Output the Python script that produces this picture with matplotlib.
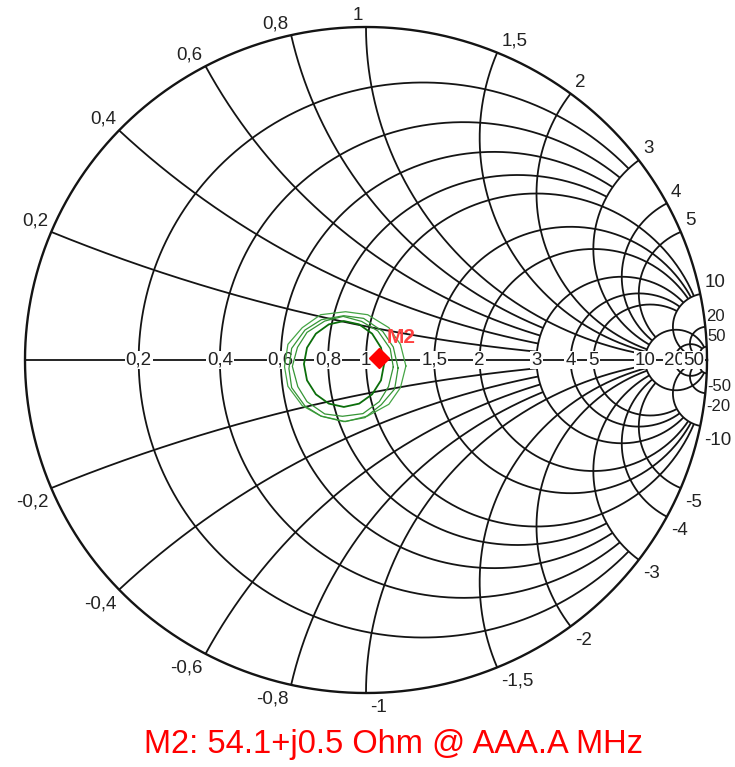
import numpy as np
import matplotlib.pyplot as plt

plt.rcParams['font.family'] = ['Liberation Sans', 'DejaVu Sans']

# normalised grid values (Z0 = 50 ohm)
resistances = [0.2, 0.4, 0.6, 0.8, 1, 1.5, 2, 3, 4, 5, 10, 20, 50]
reactances = [0.2, 0.4, 0.6, 0.8, 1, 1.5, 2, 3, 4, 5, 10, 20, 50]
# each grid line stops where it meets this value of the other family
r_stop = [3, 3, 3, 3, 10, 10, 10, 10, 10, 10, 50, 50, 50]
x_stop = [3, 3, 3, 3, 10, 10, 10, 10, 10, 10, 50, 50, 50]
grid_labels = ['0,2', '0,4', '0,6', '0,8', '1', '1,5', '2', '3', '4', '5', '10', '20', '50']

# marker
m2_ohm = 54.1 + 0.5j
m2_text = 'M2: 54.1+j0.5 Ohm @ AAA.A MHz'
z0 = 50.0

# measured sweeps, reflection coefficient (re, im)
sweep1_re = [0.053, 0.044, 0.018, -0.020, -0.065, -0.109, -0.147, -0.173,
             -0.182, -0.173, -0.147, -0.109, -0.065, -0.020, 0.018, 0.044, 0.053]
sweep1_im = [-0.012, 0.037, 0.079, 0.107, 0.117, 0.107, 0.079, 0.037,
             -0.012, -0.061, -0.103, -0.131, -0.141, -0.131, -0.103, -0.061, -0.012]
sweep2_re = [0.080, 0.071, 0.035, -0.013, -0.067, -0.121, -0.173, -0.201,
             -0.216, -0.200, -0.173, -0.121, -0.069, -0.009, 0.039, 0.066, 0.080]
sweep2_im = [-0.021, 0.034, 0.087, 0.116, 0.131, 0.117, 0.083, 0.038,
             -0.019, -0.080, -0.125, -0.162, -0.169, -0.161, -0.125, -0.080, -0.021]
sweep3_re = [0.094, 0.080, 0.049, -0.007, -0.065, -0.131, -0.179, -0.218,
             -0.226, -0.218, -0.179, -0.131, -0.065, -0.003, 0.045, 0.084, 0.094]
sweep3_im = [-0.024, 0.039, 0.086, 0.125, 0.133, 0.121, 0.090, 0.035,
             -0.026, -0.083, -0.138, -0.169, -0.185, -0.173, -0.134, -0.087, -0.024]
sweep4_re = [0.117, 0.101, 0.067, 0.005, -0.060, -0.133, -0.187, -0.229,
             -0.239, -0.229, -0.187, -0.133, -0.060, 0.005, 0.067, 0.101, 0.117]
sweep4_im = [-0.018, 0.047, 0.097, 0.136, 0.145, 0.136, 0.097, 0.047,
             -0.020, -0.079, -0.137, -0.168, -0.185, -0.168, -0.133, -0.083, -0.018]


def gamma(z):
    return (z - 1) / (z + 1)


fig = plt.figure(figsize=(7.35, 7.67), dpi=100)
ax = fig.add_axes([0, 0, 1, 1])
ax.set_xlim(-1.0733, 1.0821)
ax.set_ylim(-1.2222, 1.0811)
ax.axis('off')

ink = '#141414'
line_kw = dict(color=ink, lw=1.3, solid_capstyle='butt', zorder=1)

# outer circle and real axis
t = np.linspace(0, 2 * np.pi, 721)
ax.plot(np.cos(t), np.sin(t), color=ink, lw=1.7, zorder=1)
ax.plot([-1, 1], [0, 0], **line_kw)

# constant resistance circles
for r, xmax in zip(resistances, r_stop):
    xs = np.tan(np.linspace(-np.arctan(xmax), np.arctan(xmax), 800))
    g = gamma(r + 1j * xs)
    ax.plot(g.real, g.imag, **line_kw)

# constant reactance arcs
for x, rmax in zip(reactances, x_stop):
    rs = np.tan(np.linspace(0, np.arctan(rmax), 800))
    for sgn in (1, -1):
        g = gamma(rs + 1j * sgn * x)
        ax.plot(g.real, g.imag, **line_kw)

# labels on the real axis
for r, lab in zip(resistances, grid_labels):
    ax.text(gamma(r), 0, lab, ha='center', va='center', fontsize=13.5,
            color='#222222', zorder=3,
            bbox=dict(boxstyle='square,pad=0.05', fc='white', ec='none'))

# labels round the rim
for x, lab in zip(reactances, grid_labels):
    for sgn in (1, -1):
        g = gamma(1j * sgn * x)
        left = x < 1 or (x == 1 and sgn > 0)
        text = lab if sgn > 0 else '-' + lab
        edge = x >= 20  # these sit right at the figure border
        ax.annotate(text, (g.real, g.imag),
                    xytext=(-2 if left else (0.5 if edge else 3),
                            2 if sgn > 0 else -4),
                    textcoords='offset points',
                    ha='right' if left else 'left',
                    va='bottom' if sgn > 0 else 'top',
                    fontsize=12 if edge else 13.5, color='#222222', zorder=3)

# sweep traces
ax.plot(sweep4_re, sweep4_im, color='#45a545', lw=0.9, zorder=4)
ax.plot(sweep3_re, sweep3_im, color='#359535', lw=0.9, zorder=4)
ax.plot(sweep2_re, sweep2_im, color='#359535', lw=0.9, zorder=4)
ax.plot(sweep1_re, sweep1_im, color='#0b6e0b', lw=1.3, zorder=4)

# marker
gm = gamma(m2_ohm / z0)
ax.plot(gm.real, gm.imag, marker='D', ms=10.5, color='#ff0000', mec='#ff0000', zorder=5)
ax.annotate('M2', (gm.real, gm.imag), xytext=(5, 8), textcoords='offset points',
            ha='left', va='bottom', fontsize=15, fontweight='bold', color='#ff4040', zorder=5)

fig.text(394 / 735, 1 - 745 / 767, m2_text, ha='center', va='center',
         fontsize=23.5, color='#ff0000')

fig.savefig('out.png', dpi=100)
